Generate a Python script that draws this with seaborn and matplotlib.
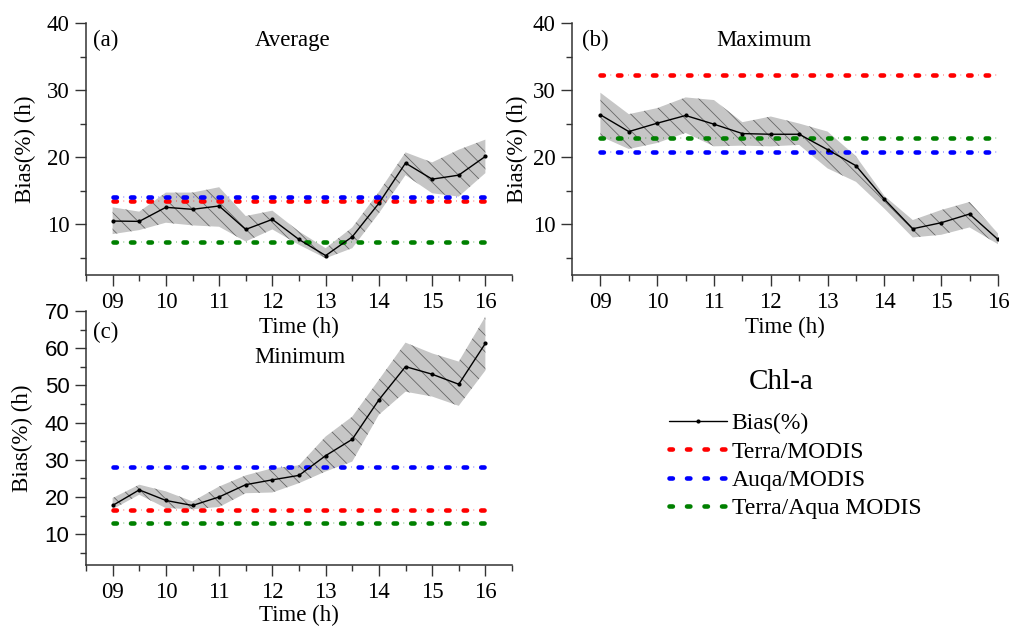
import numpy as np
import matplotlib
matplotlib.use("Agg")
import matplotlib.pyplot as plt
from matplotlib.lines import Line2D
from matplotlib.ticker import MultipleLocator
import seaborn as sns

# ---- data ----
times = [9, 9.5, 10, 10.5, 11, 11.5, 12, 12.5, 13, 13.5, 14, 14.5, 15, 15.5, 16]
time_labels = ["09", "10", "11", "12", "13", "14", "15", "16"]

avg_bias = [10.45, 10.4, 12.5, 12.2, 12.7, 9.2, 10.7, 7.7, 5.3, 8.1, 13.1, 19.1, 16.7, 17.3, 20.1]
avg_upper = [12.5, 11.85, 14.7, 14.7, 15.5, 11.2, 12.0, 8.9, 6.4, 9.5, 14.8, 20.7, 19.2, 21.1, 22.6]
avg_lower = [8.5, 9.1, 10.2, 9.8, 9.6, 7.4, 9.2, 6.9, 4.9, 6.4, 11.6, 17.3, 14.6, 14.1, 17.6]
avg_refs = [13.4, 14.1, 7.3]   # Terra, Aqua, Terra/Aqua

max_bias = [26.3, 23.8, 25.05, 26.2, 24.9, 23.5, 23.4, 23.4, 21.1, 18.7, 13.7, 9.3, 10.2, 11.5, 7.7]
max_upper = [29.6, 26.4, 27.3, 28.9, 28.5, 25.2, 26.05, 25.0, 23.8, 20.1, 14.2, 10.6, 12.1, 13.3, 8.6]
max_lower = [23.1, 21.2, 22.1, 23.6, 21.6, 21.7, 21.6, 21.8, 18.3, 16.3, 12.3, 8.0, 8.4, 9.5, 7.0]
max_refs = [32.3, 20.8, 22.8]

min_bias = [17.7, 21.9, 19.06, 17.7, 20.0, 23.3, 24.6, 25.8, 31.1, 35.5, 46.1, 55.05, 53.0, 50.3, 61.3]
min_upper = [19.7, 23.3, 21.5, 18.8, 22.8, 25.8, 27.7, 28.5, 36.25, 41.6, 51.5, 61.5, 58.6, 56.4, 68.5]
min_lower = [16.7, 20.6, 17.0, 16.7, 17.3, 21.0, 21.2, 23.7, 26.85, 29.5, 42.1, 48.3, 47.0, 44.5, 54.0]
min_refs = [16.55, 28.0, 12.9]

ref_names = ["Terra/MODIS", "Auqa/MODIS", "Terra/Aqua MODIS"]
ref_colors = ["#ff0000", "#0000ff", "#008000"]

sns.set_theme(style="ticks")
plt.rcParams["font.family"] = ["Liberation Serif", "DejaVu Serif"]
plt.rcParams["text.color"] = "black"
plt.rcParams["axes.labelcolor"] = "black"
plt.rcParams["xtick.color"] = "black"
plt.rcParams["ytick.color"] = "black"
plt.rcParams["hatch.linewidth"] = 0.6
plt.rcParams["hatch.color"] = "#666666"

FS = 16.5
W, H = 1013, 628
fig = plt.figure(figsize=(W / 100, H / 100), dpi=100)


def px_axes(left, top, right, bottom):
    return fig.add_axes([left / W, 1 - bottom / H, (right - left) / W, (bottom - top) / H])


# dash-dot look of the satellite reference lines: thick dashes + faint small dots
REF_LW = 3.3
dash_ls = (0, (0.74, 3.08))
DOT_LW = 1.4
dot_ls = (3.6, (0.35, 8.65))


def draw_panel(ax, bias, upper, lower, refs, tag, name, name_xy, tag_xy, ylim, xmax):
    ax.fill_between(times, lower, upper, facecolor="#c6c6c6", edgecolor="#666666",
                    hatch="\\\\", linewidth=0, zorder=1)
    sns.lineplot(x=times, y=bias, ax=ax, color="black", linewidth=1.0,
                 marker="o", markersize=3, markeredgewidth=0, zorder=3)
    for val, col in zip(refs, ref_colors):
        ax.hlines(val, times[0], times[-1], colors=col, linewidth=DOT_LW, alpha=0.45,
                  linestyles=[dot_ls], zorder=2)
        ax.hlines(val, times[0], times[-1], colors=col, linewidth=REF_LW,
                  linestyles=[dash_ls], capstyle="round", zorder=2)
    ax.set_xlim(8.5, xmax)
    ax.set_ylim(*ylim)
    ax.set_xticks(range(9, 17))
    ax.set_xticklabels(time_labels)
    ax.xaxis.set_minor_locator(MultipleLocator(0.5))
    ax.yaxis.set_major_locator(MultipleLocator(10))
    ax.yaxis.set_minor_locator(MultipleLocator(5))
    ax.tick_params(which="major", length=8, width=1, labelsize=FS, pad=4,
                   color="#333333", labelcolor="black")
    ax.tick_params(which="minor", length=4, width=1, color="#333333")
    for s in ["top", "right"]:
        ax.spines[s].set_visible(False)
    for s in ["left", "bottom"]:
        ax.spines[s].set_linewidth(1.1)
        ax.spines[s].set_color("#333333")
    ax.text(tag_xy[0], tag_xy[1], tag, transform=ax.transAxes, fontsize=FS,
            ha="left", va="center")
    ax.text(name_xy[0], name_xy[1], name, transform=ax.transAxes, fontsize=FS,
            ha="center", va="center")
    ax.set_xlabel("Time (h)", fontsize=FS)
    ax.set_ylabel("Bias(%) (h)", fontsize=FS)
    ax.xaxis.label.set_va("center")
    ax.yaxis.label.set_va("center")
    ax.set_facecolor("none")


ax_a = px_axes(86, 23, 512, 275)
draw_panel(ax_a, avg_bias, avg_upper, avg_lower, avg_refs, "(a)", "Average",
           (0.484, 0.929), (0.016, 0.929), (2.4, 40), 16.5)
ax_a.xaxis.set_label_coords(0.5, -0.21)
ax_a.yaxis.set_label_coords(-0.143, 0.5)

ax_b = px_axes(572, 23, 998, 275)
draw_panel(ax_b, max_bias, max_upper, max_lower, max_refs, "(b)", "Maximum",
           (0.451, 0.929), (0.023, 0.929), (2.4, 40), 16)
ax_b.xaxis.set_label_coords(0.5, -0.21)
ax_b.yaxis.set_label_coords(-0.127, 0.5)

ax_c = px_axes(86, 311, 512, 565)
draw_panel(ax_c, min_bias, min_upper, min_lower, min_refs, "(c)", "Minimum",
           (0.502, 0.815), (0.016, 0.917), (1.7, 70), 16.5)
ax_c.xaxis.set_label_coords(0.5, -0.2)
ax_c.yaxis.set_label_coords(-0.148, 0.5)
for lab in ax_c.get_yticklabels():
    lab.set_family(["Liberation Sans", "DejaVu Sans"])
    lab.set_fontsize(16)

# legend
handles = [Line2D([], [], color="black", linewidth=1.0, marker="o", markersize=3,
                  markeredgewidth=0)]
for col in ref_colors:
    handles.append(Line2D([], [], color=col, linewidth=REF_LW, linestyle=dash_ls,
                          dash_capstyle="round"))
fig.text(781 / W, 1 - 382 / H, "Chl-a", fontsize=21, ha="center", va="center")
leg = fig.legend(handles, ["Bias(%)"] + ref_names,
                 loc="upper left", bbox_to_anchor=(669 / W, 1 - 413 / H),
                 frameon=False, fontsize=17, numpoints=1,
                 handlelength=2.45, handletextpad=0.2, labelspacing=0.28,
                 borderpad=0, borderaxespad=0)

fig.savefig("out.png", dpi=100)
